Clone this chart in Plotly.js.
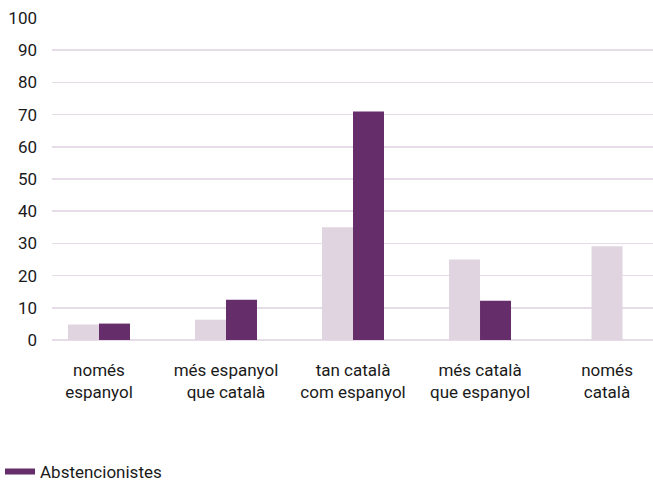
<!DOCTYPE html>
<html>
<head>
<meta charset="utf-8">
<script src="https://cdn.plot.ly/plotly-3.0.1.min.js"></script>
<style>html,body{margin:0;padding:0;background:#fff;}#chart{width:653px;height:481px;}</style>
</head>
<body>
<div id="chart"></div>
<script>
const categories = [
  "només<br>espanyol",
  "més espanyol<br>que català",
  "tan català<br>com espanyol",
  "més català<br>que espanyol",
  "només<br>català"
];
const totalValues = [4.8, 6.3, 35.0, 25.0, 29.1];
const abstValues = [5.1, 12.5, 71.0, 12.2, null];
const yTicks = [0, 10, 20, 30, 40, 50, 60, 70, 80, 90, 100];

const LIGHT = "#e0d4e1";
const DARK = "#662d6b";
const BW = 0.244;

const traces = [
  {
    type: "bar", x: categories, y: totalValues, name: "Total",
    marker: {color: LIGHT}, showlegend: false,
    width: BW,
    offset: abstValues.map(v => v == null ? -BW / 2 : -BW),
    hoverinfo: "y"
  },
  {
    type: "bar", x: categories, y: abstValues, name: "Abstencionistes",
    marker: {color: DARK}, showlegend: false,
    width: BW, offset: 0,
    hoverinfo: "y"
  },
  {
    type: "scatter", mode: "lines", x: [null], y: [null],
    name: "Abstencionistes", line: {color: DARK, width: 6},
    showlegend: true, hoverinfo: "skip"
  }
];

const layout = {
  width: 653, height: 481,
  margin: {l: 52, r: 0, t: 18, b: 141},
  paper_bgcolor: "#fff", plot_bgcolor: "#fff",
  font: {family: "Roboto, 'Open Sans', sans-serif", size: 17, color: "#1a1a1a"},
  barmode: "overlay",
  xaxis: {
    type: "category",
    range: [-0.370, 4.362],
    showgrid: false, zeroline: false, showline: false,
    ticks: "", ticklabelstandoff: 18,
    tickfont: {size: 17, color: "#1a1a1a"}
  },
  yaxis: {
    range: [0, 100],
    tickvals: yTicks,
    showgrid: true, gridcolor: "#e6dce8", gridwidth: 1.5,
    zeroline: true, zerolinecolor: "#e6dce8", zerolinewidth: 1.5,
    showline: false, ticks: "", ticklabelstandoff: 14,
    tickfont: {size: 17, color: "#1a1a1a"}
  },
  showlegend: true,
  legend: {
    xref: "container", yref: "container",
    x: 0, y: 0.019, xanchor: "left", yanchor: "middle",
    orientation: "h", font: {size: 17, color: "#1a1a1a"},
    bgcolor: "rgba(0,0,0,0)"
  }
};

Plotly.newPlot("chart", traces, layout, {displayModeBar: false, staticPlot: true});
</script>
</body>
</html>
